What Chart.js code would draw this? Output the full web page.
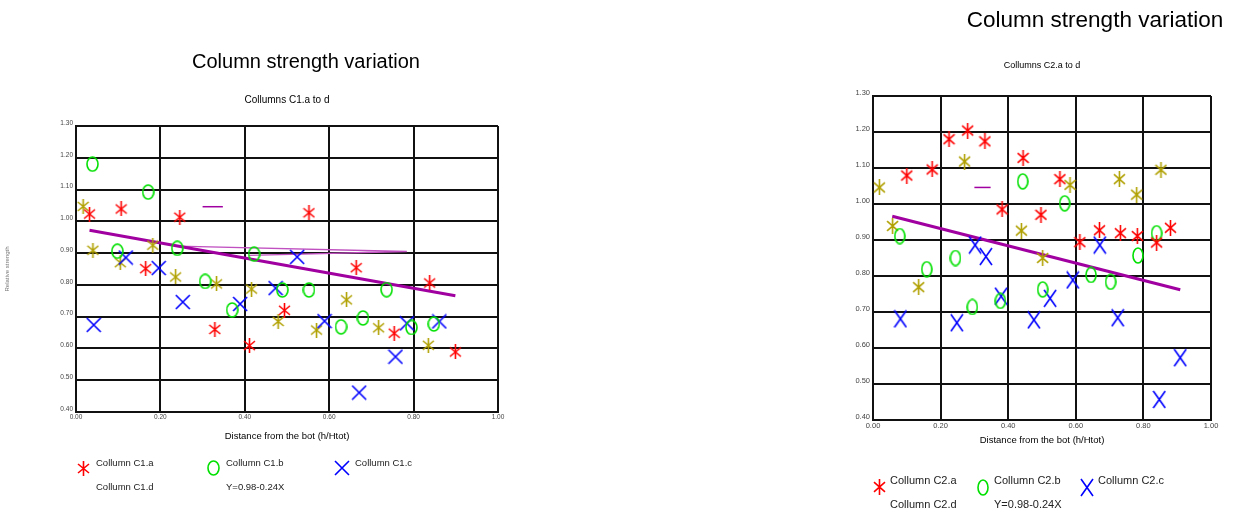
<!DOCTYPE html>
<html>
<head>
<meta charset="utf-8">
<script src="https://cdn.jsdelivr.net/npm/chart.js@4/dist/chart.umd.min.js"></script>
<style>
  html, body { margin: 0; padding: 0; background: #fff; overflow: hidden; }
  #wrap { position: relative; width: 1234px; height: 516px; }
  .box { position: absolute; top: 0; width: 617px; height: 516px; }
  #left { left: 0; }
  #right { left: 617px; }
</style>
</head>
<body>
<div id="wrap">
  <div class="box" id="left"><canvas id="chart1" width="617" height="516"></canvas></div>
  <div class="box" id="right"><canvas id="chart2" width="617" height="516"></canvas></div>
</div>
<script>
var FONT = 'Arial, "Liberation Sans", sans-serif';

// axis tick labels
var xTickLabels = ["0.00", "0.20", "0.40", "0.60", "0.80", "1.00"];
var yTickLabels = ["0.40", "0.50", "0.60", "0.70", "0.80", "0.90", "1.00", "1.10", "1.20", "1.30"];

// series labels
var labels1 = ["Collumn C1.a", "Collumn C1.b", "Collumn C1.c", "Collumn C1.d", "Y=0.98-0.24X"];
var labels2 = ["Collumn C2.a", "Collumn C2.b", "Collumn C2.c", "Collumn C2.d", "Y=0.98-0.24X"];

// columns C1 : [h/Htot, strength]
var c1a = [[0.032,1.023],[0.107,1.039],[0.246,1.013],[0.165,0.851],[0.329,0.660],[0.411,0.609],
           [0.552,1.027],[0.664,0.854],[0.494,0.720],[0.754,0.648],[0.838,0.806],[0.899,0.589]];
var c1b = [[0.039,1.180],[0.171,1.092],[0.098,0.906],[0.240,0.915],[0.306,0.811],[0.370,0.721],
           [0.422,0.897],[0.489,0.784],[0.552,0.784],[0.628,0.668],[0.680,0.696],[0.736,0.785],
           [0.795,0.666],[0.848,0.677]];
var c1c = [[0.042,0.674],[0.118,0.886],[0.196,0.853],[0.253,0.746],[0.389,0.740],[0.473,0.790],
           [0.524,0.888],[0.589,0.686],[0.671,0.461],[0.757,0.574],[0.784,0.679],[0.861,0.685]];
var c1d = [[0.017,1.047],[0.040,0.909],[0.105,0.870],[0.182,0.925],[0.236,0.825],[0.333,0.803],
           [0.416,0.787],[0.479,0.685],[0.570,0.658],[0.641,0.753],[0.717,0.665],[0.835,0.610]];
var fit1 = [[0.032,0.972],[0.899,0.766]];
var wedge1 = [[0.24,0.922],[0.784,0.905],[0.41,0.893]];

// columns C2
var c2a = [[0.100,1.079],[0.175,1.096],[0.225,1.180],[0.280,1.204],[0.331,1.174],[0.382,0.985],
           [0.444,1.128],[0.497,0.970],[0.553,1.069],[0.612,0.894],[0.670,0.927],[0.732,0.919],
           [0.782,0.911],[0.839,0.893],[0.880,0.934]];
var c2b = [[0.079,0.911],[0.159,0.819],[0.244,0.850],[0.294,0.714],[0.377,0.731],[0.443,1.063],
           [0.502,0.763],[0.567,1.002],[0.645,0.803],[0.703,0.784],[0.784,0.857],[0.839,0.919]];
var c2c = [[0.081,0.681],[0.248,0.670],[0.302,0.886],[0.334,0.854],[0.379,0.744],[0.476,0.678],
           [0.524,0.738],[0.591,0.789],[0.671,0.886],[0.724,0.684],[0.847,0.457],[0.909,0.573]];
var c2d = [[0.019,1.046],[0.058,0.939],[0.135,0.769],[0.271,1.118],[0.439,0.926],[0.502,0.850],
           [0.583,1.053],[0.729,1.069],[0.780,1.026],[0.852,1.095]];
var fit2 = [[0.057,0.966],[0.909,0.762]];

// stray legend stroke that sits inside both plots
var dash = [[0.300,1.046],[0.348,1.046]];

function pts(arr) {
  return arr.map(function (p) { return { x: p[0], y: p[1] }; });
}

// little marker pictures used as pointStyle
function mark(kind, color, w, h) {
  var c = document.createElement('canvas');
  c.width = w; c.height = h;
  var g = c.getContext('2d');
  g.strokeStyle = color;
  g.lineWidth = 1.6;
  g.beginPath();
  if (kind === 'star') {
    g.moveTo(w / 2, 0); g.lineTo(w / 2, h);
    g.moveTo(1, h * 0.2); g.lineTo(w - 1, h * 0.8);
    g.moveTo(1, h * 0.8); g.lineTo(w - 1, h * 0.2);
  } else if (kind === 'ring') {
    g.ellipse(w / 2, h / 2, w / 2 - 1, h / 2 - 1, 0, 0, Math.PI * 2);
  } else {
    g.moveTo(1, 1); g.lineTo(w - 1, h - 1);
    g.moveTo(w - 1, 1); g.lineTo(1, h - 1);
  }
  g.stroke();
  return c;
}

// main title + legend drawn under the plot
var sheetText = {
  id: 'sheetText',
  afterDraw: function (chart, args, o) {
    var ctx = chart.ctx;
    ctx.save();
    ctx.fillStyle = '#000';
    ctx.textBaseline = 'middle';
    ctx.textAlign = 'center';
    ctx.font = o.titleSize + 'px ' + FONT;
    ctx.fillText(o.title, o.titleX, o.titleY);
    ctx.textAlign = 'left';
    ctx.fillStyle = '#222';
    ctx.font = o.legendSize + 'px ' + FONT;
    chart.data.datasets.forEach(function (ds, i) {
      var s = o.spots[i];
      if (!s) return;
      if (s.mark) {
        var im = ds.pointStyle;
        ctx.drawImage(im, Math.round(s.x - im.width / 2), Math.round(s.y + o.markDy - im.height / 2));
      }
      ctx.fillText(ds.label, s.x + o.gap, s.y);
    });
    ctx.restore();
  }
};

function build(id, p) {
  var sets = [
    { label: p.labels[0], data: pts(p.a), pointStyle: mark('star', '#ff0000', p.star[0], p.star[1]) },
    { label: p.labels[1], data: pts(p.b), pointStyle: mark('ring', '#00e000', p.ring[0], p.ring[1]) },
    { label: p.labels[2], data: pts(p.c), pointStyle: mark('x', '#0000ff', p.cross[0], p.cross[1]) },
    { label: p.labels[3], data: pts(p.d), pointStyle: mark('star', '#b0a000', p.star[0], p.star[1]) },
    { label: p.labels[4], data: pts(p.fit), showLine: true, pointRadius: 0, borderColor: '#a000a0', borderWidth: 3 },
    { label: '', data: pts(dash), showLine: true, pointRadius: 0, borderColor: '#a000a0', borderWidth: 1.5 }
  ];
  if (p.wedge) {
    sets.push({ label: '', data: pts(p.wedge), showLine: true, pointRadius: 0, borderColor: '#c050c0', borderWidth: 1.3 });
  }

  return new Chart(document.getElementById(id), {
    type: 'scatter',
    data: { datasets: sets },
    plugins: [sheetText],
    options: {
      responsive: false,
      animation: false,
      devicePixelRatio: 1,
      events: [],
      layout: { padding: { left: 0, right: p.padRight, top: 0, bottom: p.padBottom } },
      plugins: {
        legend: { display: false },
        tooltip: { enabled: false },
        title: { display: false },
        subtitle: {
          display: true,
          text: p.subtitle,
          fullSize: false,
          color: '#000',
          font: { family: FONT, size: p.subSize, weight: 'normal' },
          padding: { top: p.subTop, bottom: p.subBottom }
        },
        sheetText: p.text
      },
      scales: {
        x: {
          type: 'linear', min: 0, max: 1,
          afterFit: function (s) { s.height = p.xHeight; },
          grid: { color: '#111', lineWidth: 2, drawTicks: false },
          border: { color: '#111', width: 2 },
          ticks: {
            stepSize: 0.2, padding: 1, maxRotation: 0, autoSkip: false,
            color: '#444', font: { family: FONT, size: p.tickSize },
            callback: function (v, i) { return xTickLabels[i]; }
          },
          title: {
            display: true, text: 'Distance from the bot (h/Htot)', color: '#000',
            font: { family: FONT, size: p.xTitleSize }, padding: { top: 0, bottom: 4 }
          }
        },
        y: {
          type: 'linear', min: 0.4, max: 1.3,
          afterFit: function (s) { s.width = p.yWidth; },
          grid: { color: '#111', lineWidth: 2, drawTicks: false },
          border: { color: '#111', width: 2 },
          ticks: {
            stepSize: 0.1, padding: 3, labelOffset: -3, autoSkip: false,
            color: '#444', font: { family: FONT, size: p.tickSize },
            callback: function (v, i) { return yTickLabels[i]; }
          },
          title: {
            display: p.yTitle !== '', text: p.yTitle, color: '#777',
            font: { family: FONT, size: 6 }, padding: { top: 4, bottom: 4 }
          }
        }
      }
    }
  });
}

build('chart1', {
  labels: labels1, a: c1a, b: c1b, c: c1c, d: c1d, fit: fit1, wedge: wedge1,
  star: [13, 15], ring: [13, 16], cross: [16, 16],
  padRight: 119, padBottom: 70, yWidth: 76, xHeight: 34,
  subtitle: 'Collumns C1.a to d', subSize: 10, subTop: 94, subBottom: 20,
  tickSize: 6.5, xTitleSize: 9.5, yTitle: 'Relative strength',
  text: {
    title: 'Column strength variation', titleX: 306, titleY: 62, titleSize: 20,
    legendSize: 9.5, gap: 13, markDy: 5,
    spots: [{ x: 83, y: 463, mark: true }, { x: 213, y: 463, mark: true }, { x: 342, y: 463, mark: true },
            { x: 83, y: 487 }, { x: 213, y: 487 }]
  }
});

build('chart2', {
  labels: labels2, a: c2a, b: c2b, c: c2c, d: c2d, fit: fit2, wedge: null,
  star: [13, 16], ring: [12, 17], cross: [14, 19],
  padRight: 23, padBottom: 66, yWidth: 256, xHeight: 30,
  subtitle: 'Collumns C2.a to d', subSize: 9, subTop: 60.6, subBottom: 24.6,
  tickSize: 7.5, xTitleSize: 9.5, yTitle: '',
  text: {
    title: 'Column strength variation', titleX: 478, titleY: 21, titleSize: 22.5,
    legendSize: 11, gap: 11, markDy: 6,
    spots: [{ x: 262, y: 481, mark: true }, { x: 366, y: 481, mark: true }, { x: 470, y: 481, mark: true },
            { x: 262, y: 505 }, { x: 366, y: 505 }]
  }
});
</script>
</body>
</html>
